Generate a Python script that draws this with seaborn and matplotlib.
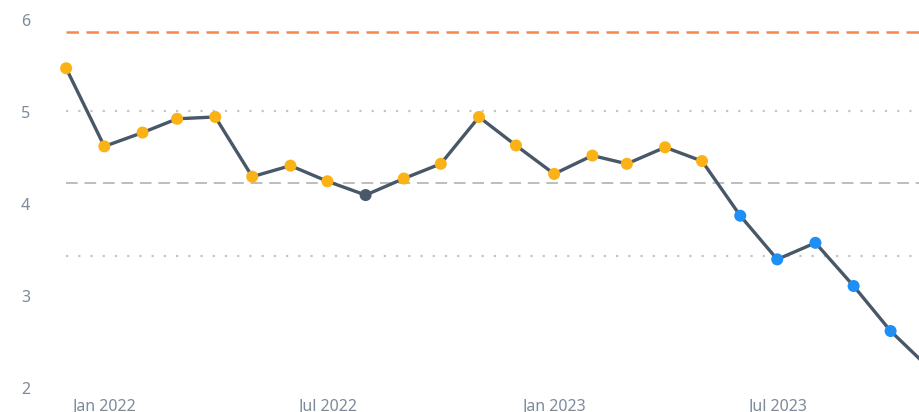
import matplotlib
matplotlib.use("Agg")
import matplotlib.pyplot as plt
import matplotlib.dates as mdates
import seaborn as sns
import pandas as pd
import numpy as np

# ---- data ----
months = pd.date_range("2021-12-01", "2023-11-01", freq="MS")
values = [5.48, 4.63, 4.78, 4.93, 4.95, 4.30, 4.42, 4.25, 4.10, 4.28, 4.44, 4.95,
          4.64, 4.33, 4.53, 4.44, 4.62, 4.47, 3.875, 3.40, 3.58, 3.11, 2.62, 2.22]
point_class = ["above"] * 8 + ["normal"] + ["above"] * 9 + ["run"] * 6
mean_value = 4.23
upper_sigma = 5.02
lower_sigma = 3.44
upper_limit = 5.88
y_ticks = [2, 3, 4, 5, 6]
x_tick_dates = ["2022-01-01", "2022-07-01", "2023-01-01", "2023-07-01"]

df = pd.DataFrame({"date": months, "value": values, "cls": point_class})

sns.set_theme(style="white")
plt.rcParams["font.family"] = ["Noto Sans", "DejaVu Sans"]

fig = plt.figure(figsize=(9.2, 4.12), dpi=100)
ax = fig.add_axes([40 / 920, 24 / 412, 880 / 920, (388 - 20.5) / 412])

line_color = "#485868"
palette = {"above": "#FBB217", "normal": line_color, "run": "#1E8FF5"}

x0 = mdates.date2num(pd.Timestamp("2021-12-01"))
x1 = mdates.date2num(pd.Timestamp("2023-11-01"))
ax.hlines(upper_limit, x0, x1, colors="#F58A4E", linestyles=(0, (5, 3)), linewidth=1.8, zorder=1)
ax.hlines([upper_sigma, lower_sigma], x0, x1, colors="#C4C4C4", linestyles=(0, (1, 4.5)), linewidth=1.6, zorder=1)
ax.hlines(mean_value, x0, x1, colors="#BDBDBD", linestyles=(0, (6, 3.5)), linewidth=1.4, zorder=1)

sns.lineplot(data=df, x="date", y="value", color=line_color, linewidth=2.4, ax=ax, zorder=2)
sns.scatterplot(data=df, x="date", y="value", hue="cls", palette=palette, s=75,
                edgecolor="none", legend=False, ax=ax, zorder=3)

ppd = 37.3 / 30.44
ax.set_xlim(x0 - 26 / ppd, x0 + 849 / ppd)
ax.set_ylim(2, 6)
ax.set_yticks(y_ticks)
ax.set_xticks([mdates.date2num(pd.Timestamp(d)) for d in x_tick_dates])
ax.xaxis.set_major_formatter(mdates.DateFormatter("%b %Y"))
ax.set_xlabel("")
ax.set_ylabel("")
for s in ax.spines.values():
    s.set_visible(False)
ax.tick_params(axis="both", length=0, colors="#7D8A99", labelsize=11.5)
ax.tick_params(axis="x", pad=8)
ax.tick_params(axis="y", pad=7)
ax.grid(False)

fig.savefig("out.png", dpi=100)
